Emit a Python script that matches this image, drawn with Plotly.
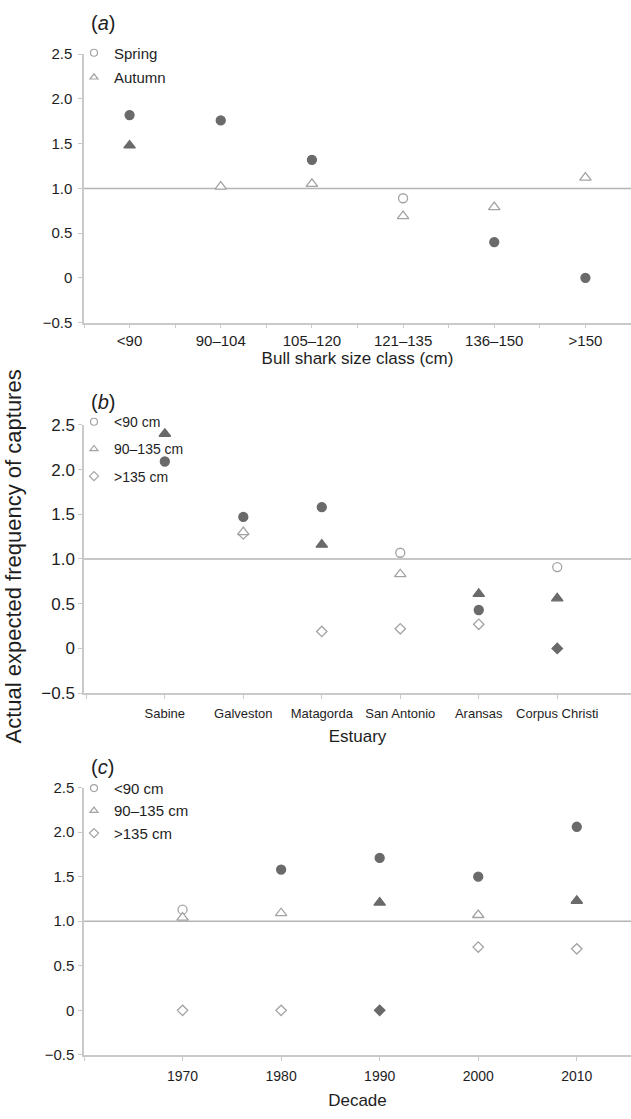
import plotly.graph_objects as go

# ---------------- data ----------------
size_classes = ["<90", "90–104", "105–120", "121–135", "136–150", ">150"]
spring = [1.82, 1.76, 1.32, 0.89, 0.40, 0.0]
spring_sig = [1, 1, 1, 0, 1, 1]
autumn = [1.48, 1.02, 1.05, 0.69, 0.79, 1.12]
autumn_sig = [1, 0, 0, 0, 0, 0]

estuaries = ["Sabine", "Galveston", "Matagorda", "San Antonio", "Aransas", "Corpus Christi"]
est_small = [2.09, 1.47, 1.58, 1.07, 0.43, 0.91]
est_small_sig = [1, 1, 1, 0, 1, 0]
est_mid = [2.40, 1.30, 1.16, 0.83, 0.61, 0.56]
est_mid_sig = [1, 0, 1, 0, 1, 1]
est_large = [None, 1.28, 0.19, 0.22, 0.27, 0.0]
est_large_sig = [0, 0, 0, 0, 0, 1]

decades = [1970, 1980, 1990, 2000, 2010]
dec_small = [1.13, 1.58, 1.71, 1.50, 2.06]
dec_small_sig = [0, 1, 1, 1, 1]
dec_mid = [1.04, 1.09, 1.21, 1.07, 1.23]
dec_mid_sig = [0, 0, 1, 0, 1]
dec_large = [0.0, 0.0, 0.0, 0.71, 0.69]
dec_large_sig = [0, 0, 1, 0, 0]

y_ticks = [-0.5, 0, 0.5, 1.0, 1.5, 2.0, 2.5]
y_ticktext = ["−0.5", "0", "0.5", "1.0", "1.5", "2.0", "2.5"]

# ---------------- style ----------------
FONT = "Liberation Sans, Arial, sans-serif"
FILL = "#6a6a6a"
OPEN_LINE = "#a3a3a3"
AXIS = "#c9c9c9"
TXT = "#1e1e1e"
W, H = 631, 1119

def ypaper(px):
    return (H - px) / H

def pt_style(sig):
    fill = [FILL if s else "white" for s in sig]
    line = [FILL if s else OPEN_LINE for s in sig]
    return fill, line

fig = go.Figure()

def add_series(x, y, sig, symbol, size, xa, ya):
    fill, line = pt_style(sig)
    fig.add_trace(go.Scatter(
        x=x, y=y, mode="markers", xaxis=xa, yaxis=ya, showlegend=False,
        marker=dict(symbol=symbol, size=size, color=fill,
                    line=dict(color=line, width=1.3)),
        hoverinfo="x+y"))

def add_legend(name, symbol, size, legend, xa, ya):
    fig.add_trace(go.Scatter(
        x=[None], y=[None], mode="markers", name=name, legend=legend,
        xaxis=xa, yaxis=ya, legendgroup=legend + name,
        marker=dict(symbol=symbol + "-open", size=size, color=OPEN_LINE,
                    line=dict(color=OPEN_LINE, width=1.2))))

# panel a
idx_a = list(range(len(size_classes)))
add_series(idx_a, spring, spring_sig, "circle", 9, "x", "y")
add_series(idx_a, autumn, autumn_sig, "triangle-up", 10, "x", "y")
add_legend("Spring", "circle", 7, "legend", "x", "y")
add_legend("Autumn", "triangle-up", 7, "legend", "x", "y")

# panel b
idx_b = list(range(len(estuaries)))
add_series(idx_b, est_large, est_large_sig, "diamond", 8, "x2", "y2")
add_series(idx_b, est_small, est_small_sig, "circle", 9, "x2", "y2")
add_series(idx_b, est_mid, est_mid_sig, "triangle-up", 10, "x2", "y2")
add_legend("<90 cm", "circle", 7, "legend2", "x2", "y2")
add_legend("90–135 cm", "triangle-up", 7, "legend2", "x2", "y2")
add_legend(">135 cm", "diamond", 7, "legend2", "x2", "y2")

# panel c
add_series(decades, dec_large, dec_large_sig, "diamond", 8, "x3", "y3")
add_series(decades, dec_small, dec_small_sig, "circle", 9, "x3", "y3")
add_series(decades, dec_mid, dec_mid_sig, "triangle-up", 10, "x3", "y3")
add_legend("<90 cm", "circle", 7, "legend3", "x3", "y3")
add_legend("90–135 cm", "triangle-up", 7, "legend3", "x3", "y3")
add_legend(">135 cm", "diamond", 7, "legend3", "x3", "y3")

XDOM = [84 / W, 1.0]
common_axis = dict(showline=True, linecolor=AXIS, linewidth=1.5, ticks="outside",
                   ticklen=4, tickcolor=AXIS, tickwidth=1, showgrid=False,
                   zeroline=False, fixedrange=True)

# (top px, bottom px, tick font size, label standoff)
ydoms = {"y": (46, 319, 15, 3), "y2": (423, 696, 17, 0), "y3": (792, 1064, 15, 1)}

layout = dict(
    width=W, height=H, margin=dict(l=0, r=0, t=0, b=0),
    paper_bgcolor="white", plot_bgcolor="white",
    font=dict(family=FONT, color=TXT, size=13),
)

for ya, (top, bot, fs, so) in ydoms.items():
    key = "yaxis" if ya == "y" else "yaxis" + ya[1:]
    layout[key] = dict(common_axis, domain=[ypaper(bot), ypaper(top)],
                       range=[-0.5, 2.5], tickmode="array", tickvals=y_ticks,
                       ticktext=y_ticktext, tickfont=dict(size=fs), ticklabelstandoff=so,
                       anchor=ya.replace("y", "x"))

layout["xaxis"] = dict(common_axis, domain=XDOM, anchor="y", range=[-0.5, len(size_classes) - 0.5],
                       tickmode="array", tickvals=idx_a, ticktext=size_classes,
                       tickfont=dict(size=15),
                       minor=dict(ticks="outside", ticklen=4, tickcolor=AXIS,
                                  tickmode="linear", tick0=-0.5, dtick=1, showgrid=False),
                       title=dict(text="Bull shark size class (cm)", font=dict(size=17), standoff=0))
layout["xaxis2"] = dict(common_axis, domain=XDOM, anchor="y2", range=[-1.03, len(estuaries) - 0.06],
                        tickmode="array", tickvals=[-1] + idx_b, ticktext=[""] + estuaries,
                        tickfont=dict(size=13), ticklabelstandoff=3,
                        title=dict(text="Estuary", font=dict(size=17), standoff=11))
layout["xaxis3"] = dict(common_axis, domain=XDOM, anchor="y3", range=[decades[0] - 10, decades[-1] + 5.5],
                        tickmode="array", tickvals=[decades[0] - 10] + decades,
                        ticktext=[""] + [str(d) for d in decades],
                        tickfont=dict(size=14), ticklabelstandoff=4,
                        title=dict(text="Decade", font=dict(size=17), standoff=11))

leg_common = dict(bgcolor="rgba(0,0,0,0)", borderwidth=0, xanchor="left", yanchor="top",
                  traceorder="grouped", itemsizing="trace")
layout["legend"] = dict(leg_common, x=74 / W, y=ypaper(28), font=dict(size=15), tracegroupgap=2)
layout["legend2"] = dict(leg_common, x=74 / W, y=ypaper(404), font=dict(size=14), tracegroupgap=6)
layout["legend3"] = dict(leg_common, x=74 / W, y=ypaper(776), font=dict(size=15), tracegroupgap=0)

fig.update_layout(**layout)

# reference line at 1.0 in each panel
for xa, ya in [("x", "y"), ("x2", "y2"), ("x3", "y3")]:
    fig.add_shape(type="line", xref=f"{xa} domain", yref=ya, x0=0, x1=1, y0=1.0, y1=1.0,
                  line=dict(color="#b4b4b4", width=1.5), layer="below")

# panel labels
for lab, py in [("a", 14), ("b", 400), ("c", 771)]:
    fig.add_annotation(text=f"(<i>{lab}</i>)", xref="paper", yref="paper", x=89 / W, y=ypaper(py),
                       xanchor="left", yanchor="middle", showarrow=False, font=dict(size=20))

fig.add_annotation(text="Actual expected frequency of captures", xref="paper", yref="paper",
                   x=14 / W, y=ypaper(557), textangle=-90, showarrow=False,
                   xanchor="center", yanchor="middle", font=dict(size=22))

fig.write_html("out.html")
